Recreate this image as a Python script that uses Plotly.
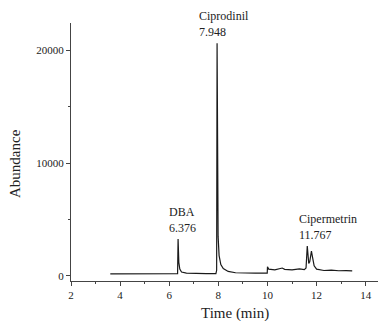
import plotly.graph_objects as go

time_min = [3.6, 5.0, 6.3, 6.34, 6.36, 6.39, 6.43, 6.5, 6.7, 7.0, 7.5, 7.9, 7.93, 7.948, 7.965,
            7.99, 8.03, 8.1, 8.2, 8.4, 8.7, 9.0, 9.5, 9.99, 10.0, 10.05, 10.3, 10.6, 10.7, 11.0,
            11.3, 11.5, 11.57, 11.62, 11.68, 11.72, 11.79, 11.83, 11.9, 12.0, 12.3, 12.6, 12.9,
            13.2, 13.45]
abundance = [180, 170, 160, 200, 3270, 1200, 600, 350, 250, 220, 200, 200, 500, 20600, 11800,
             3500, 1800, 1000, 650, 400, 280, 250, 240, 240, 800, 600, 530, 700, 580, 540,
             620, 560, 700, 2650, 1100, 1250, 2200, 1700, 900, 600, 480, 520, 460,
             470, 440]

peak_names = ["DBA", "Ciprodinil", "Cipermetrin"]
peak_times = ["6.376", "7.948", "11.767"]
label_x = [6.376, 7.948, 11.767]
label_y = [3270, 20600, 2650]

SERIF = "Liberation Serif"

fig = go.Figure()
fig.add_trace(go.Scatter(x=time_min, y=abundance, mode="lines",
                         line=dict(color="#1a1a1a", width=1.2), showlegend=False))

label_x_offsets = [-0.45, -0.8, -0.55]
for name, t, x, y, dx in zip(peak_names, peak_times, label_x, label_y, label_x_offsets):
    fig.add_annotation(x=x + dx, y=y, text=name + "<br>" + t, showarrow=False,
                       xanchor="left", yanchor="bottom", align="left", yshift=2,
                       font=dict(family=SERIF, size=12, color="#222222"))

fig.add_annotation(xref="paper", yref="paper", x=(235 - 71) / 307, y=(321 - 40 - 313) / 258,
                   text="Time (min)", showarrow=False, xanchor="center", yanchor="middle",
                   font=dict(family=SERIF, size=15, color="#222222"))
fig.add_annotation(xref="paper", yref="paper", x=(15 - 71) / 307, y=(281 - 164) / 258,
                   text="Abundance", textangle=-90, showarrow=False, xanchor="center",
                   yanchor="middle",
                   font=dict(family=SERIF, size=15, color="#222222"))

fig.update_layout(
    width=384, height=321,
    margin=dict(l=71, r=6, t=23, b=40),
    plot_bgcolor="white", paper_bgcolor="white",
    font=dict(family=SERIF, size=11, color="#222222"),
    xaxis=dict(range=[2, 14.5], tickvals=[2, 4, 6, 8, 10, 12, 14], showline=True,
               linecolor="#444444", linewidth=1, ticks="outside", ticklen=4, tickcolor="#444444",
               showgrid=False, zeroline=False, tickfont=dict(family=SERIF, size=11),
               minor=dict(tickvals=[3, 5, 7, 9, 11, 13], ticks="outside", ticklen=2, tickcolor="#444444")),
    yaxis=dict(range=[-450, 22400], tickvals=[0, 10000, 20000], tickformat="d", showline=True,
               linecolor="#444444", linewidth=1, ticks="outside", ticklen=4, tickcolor="#444444",
               showgrid=False, zeroline=False, tickfont=dict(family=SERIF, size=11),
               minor=dict(tickvals=[5000, 15000], ticks="outside", ticklen=2, tickcolor="#444444")),
)

fig.write_html("out.html")
